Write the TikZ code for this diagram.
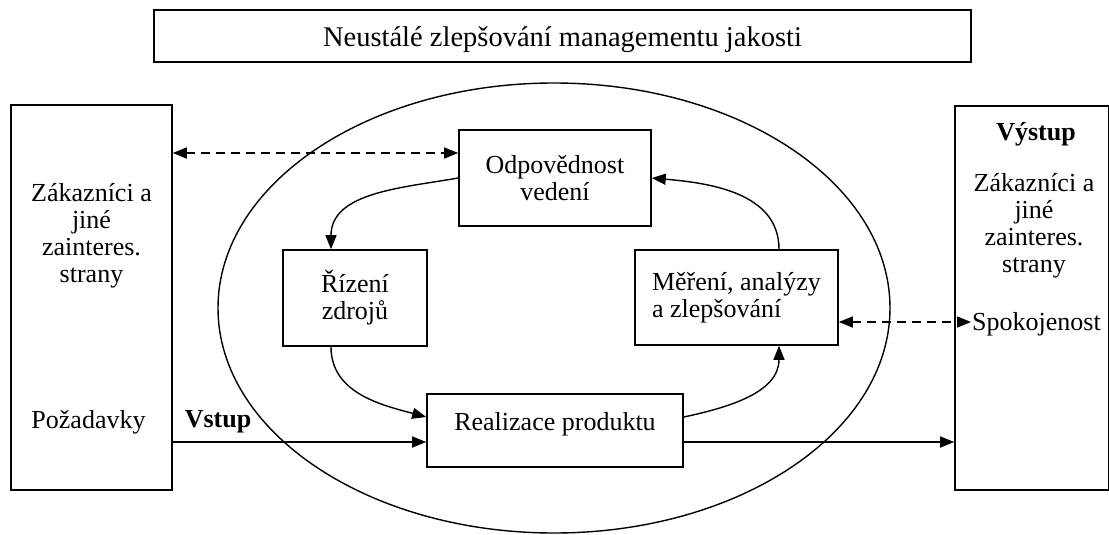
\documentclass[tikz,border=0pt]{standalone}
\usepackage{fontspec}
\setmainfont{Liberation Serif}
\usetikzlibrary{arrows.meta,shapes.geometric}
\begin{document}
\begin{tikzpicture}[x=1pt,y=-1pt,
  txt/.style={font=\fontsize{26}{27}\selectfont, inner sep=0pt},
  btxt/.style={font=\fontsize{26}{27}\selectfont\bfseries, inner sep=0pt},
  box/.style={draw, line width=1.6pt, font=\fontsize{26}{27}\selectfont, inner sep=0pt},
  arr/.style={line width=1.4pt, -{Triangle[length=14pt,width=11pt]}},
  darr/.style={line width=1.4pt, dash pattern=on 9pt off 6pt,
    {Triangle[length=14pt,width=11pt]}-{Triangle[length=14pt,width=11pt]}},
]
\useasboundingbox (0,0) rectangle (1109,535);

% big ellipse
\node[ellipse, draw, line width=1.4pt, minimum width=672pt, minimum height=450pt, inner sep=0pt] (oval) at (554,308) {};

% boxes
\node[box, font=\fontsize{28.5}{30}\selectfont, minimum width=817pt, text height=37pt, text depth=15pt, anchor=base] (top) at (562.5,47) {Neustálé zlepšování managementu jakosti};
\node[box, minimum width=161pt, minimum height=385pt] (lbox) at (91.5,297.5) {};
\node[box, minimum width=154pt, minimum height=384pt] (rbox) at (1032,298) {};

\node[box, minimum width=192pt, minimum height=96pt, align=center] (odp) at (555,178) {Odpovědnost\\vedení};
\node[box, minimum width=144pt, minimum height=96pt, align=center] (riz) at (355,298) {Řízení\\zdrojů};
\node[box, minimum width=203pt, minimum height=95pt, align=left] (mer) at (736.5,297.5) {Měření, analýzy\\a zlepšování};
\node[box, minimum width=256pt, text height=36pt, text depth=37pt, anchor=base] (real) at (555,430) {Realizace produktu};

% texts
\node[txt, align=center] (ltxt) at (91.5,236) {Zákazníci a\\jiné\\zainteres.\\strany};
\node[txt, anchor=base] (poz) at (88.5,428) {Požadavky};
\node[btxt, anchor=base] (vstup) at (218,427) {Vstup};
\node[btxt, anchor=base] (vystup) at (1036,140) {Výstup};
\node[txt, align=center] (rtxt) at (1034,226) {Zákazníci a\\jiné\\zainteres.\\strany};
\node[txt, anchor=base west, inner sep=1pt] (spok) at (971,330) {Spokojenost};

% helper coordinates
\coordinate (vin) at (300,442);
\coordinate (dt) at (300,153);
\coordinate (dr) at (900,322);
\coordinate (xl) at (331,0);
\coordinate (xr) at (779,0);
\coordinate (ym) at (0,178);
\coordinate (yb) at (0,417);

% connectors
\draw[arr] (lbox.east |- vin) -- (real.west |- vin);
\draw[arr] (real.east |- vin) -- (rbox.west |- vin);
\draw[darr] (lbox.east |- dt) -- (odp.west |- dt);
\draw[darr] (mer.east |- dr) -- (spok.west |- dr);
\draw[arr] (odp.west |- ym) to[out=190,in=90] (riz.north -| xl);
\draw[arr] (riz.south -| xl) to[out=-90,in=165] (real.west |- yb);
\draw[arr] (real.east |- yb) to[out=12,in=-90] (mer.south -| xr);
\draw[arr] (mer.north -| xr) to[out=90,in=-5] (odp.east |- ym);
\end{tikzpicture}
\end{document}
